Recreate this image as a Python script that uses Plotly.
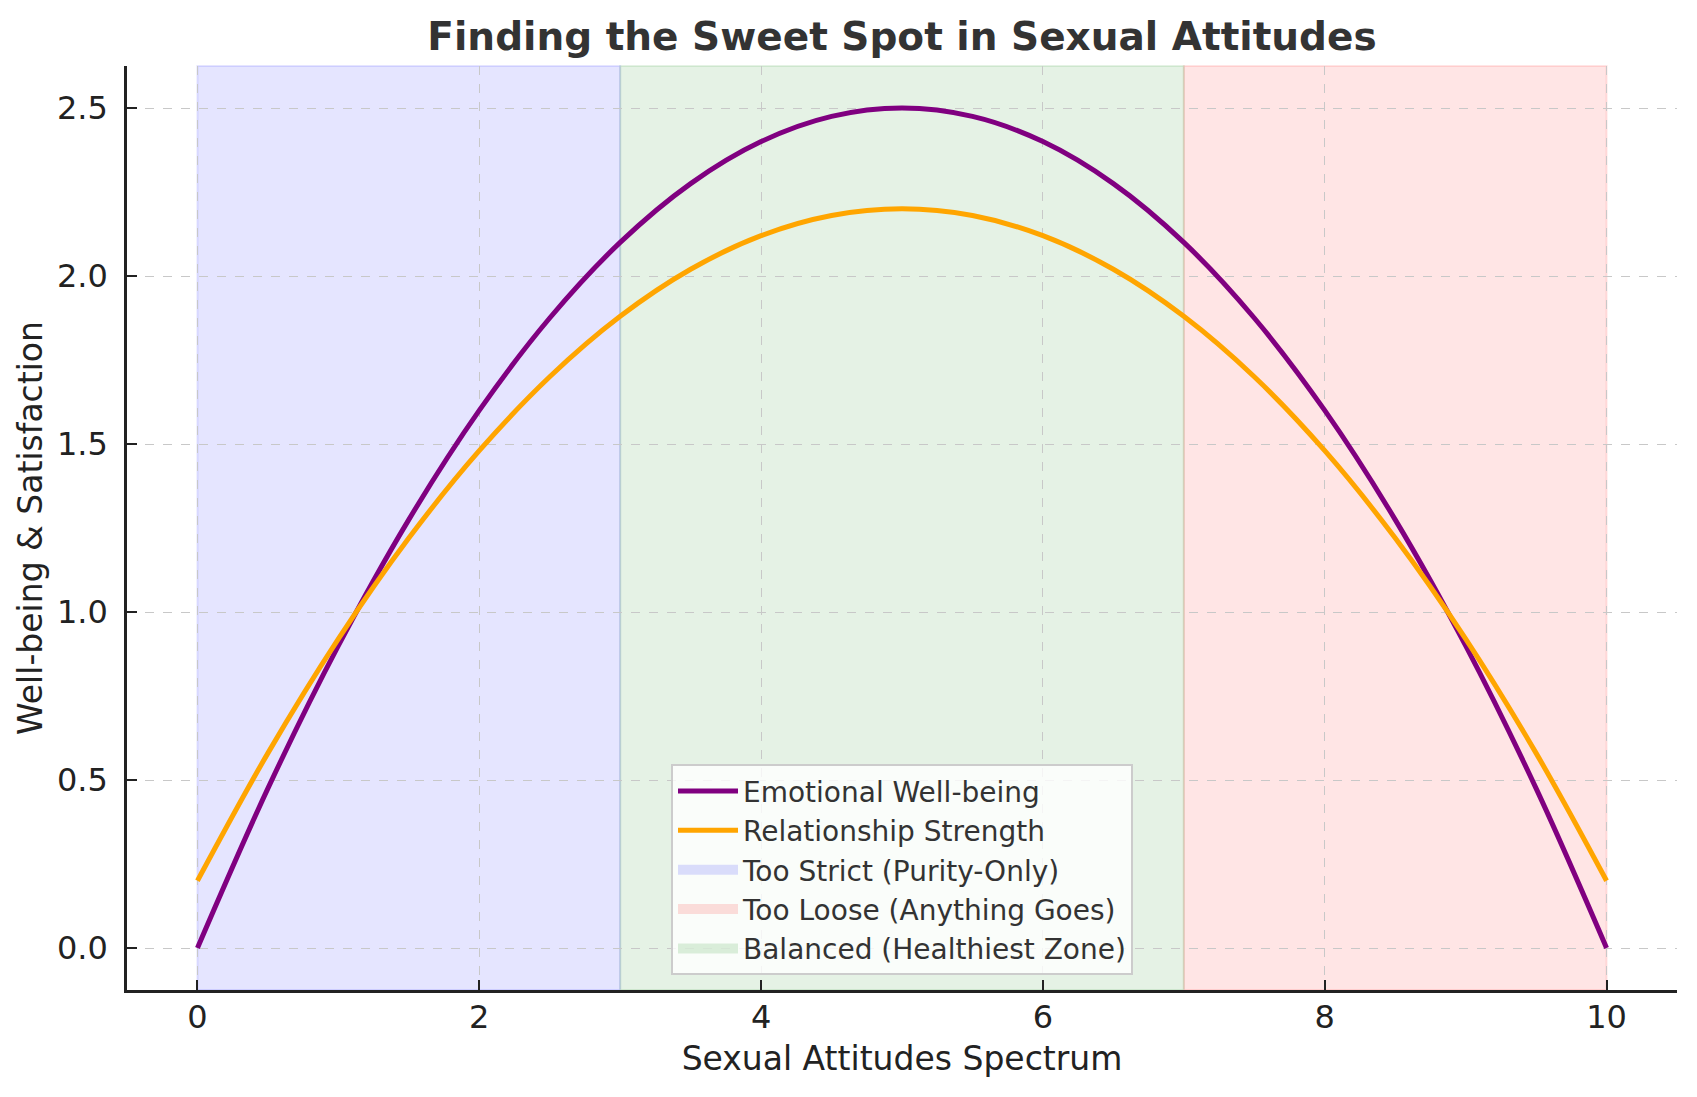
import plotly.graph_objects as go

# Data
x_vals = [0, 0.5, 1, 1.5, 2, 2.5, 3, 3.5, 4, 4.5, 5, 5.5, 6, 6.5, 7, 7.5, 8, 8.5, 9, 9.5, 10]
emotional = [0.0, 0.475, 0.9, 1.275, 1.6, 1.875, 2.1, 2.275, 2.4, 2.475, 2.5,
             2.475, 2.4, 2.275, 2.1, 1.875, 1.6, 1.275, 0.9, 0.475, 0.0]
relationship = [0.2, 0.58, 0.92, 1.22, 1.48, 1.7, 1.88, 2.02, 2.12, 2.18, 2.2,
                2.18, 2.12, 2.02, 1.88, 1.7, 1.48, 1.22, 0.92, 0.58, 0.2]
zone_names = ["Too Strict (Purity-Only)", "Too Loose (Anything Goes)", "Balanced (Healthiest Zone)"]
zone_start = [0, 7, 3]
zone_end = [3, 10, 7]
zone_colors = ["rgba(0,0,255,0.1)", "rgba(255,0,0,0.1)", "rgba(0,128,0,0.1)"]

FONT = "DejaVu Sans"

fig = go.Figure()
fig.add_trace(go.Scatter(x=x_vals, y=emotional, mode="lines", name="Emotional Well-being",
                         line=dict(color="purple", width=5, shape="spline"), legendrank=1))
fig.add_trace(go.Scatter(x=x_vals, y=relationship, mode="lines", name="Relationship Strength",
                         line=dict(color="orange", width=5, shape="spline"), legendrank=2))

for i, (n, a, b, c) in enumerate(zip(zone_names, zone_start, zone_end, zone_colors)):
    fig.add_vrect(x0=a, x1=b, fillcolor=c, line=dict(color=c, width=2), layer="below")
    # legend swatch
    fig.add_trace(go.Scatter(x=[None], y=[None], mode="lines", name=n,
                             line=dict(color=c.replace("0.1)", "0.13)"), width=18),
                             legendrank=3 + i, hoverinfo="skip"))

fig.update_layout(
    width=1697, height=1097,
    margin=dict(l=119, r=28, t=58, b=115),
    paper_bgcolor="white", plot_bgcolor="white",
    font=dict(family=FONT, size=32, color="#222"),
    title=dict(text="<b>Finding the Sweet Spot in Sexual Attitudes</b>", x=0.5, xref="paper",
               xanchor="center", y=1 - 28 / 1097, yanchor="middle",
               font=dict(size=39, color="#333", family=FONT)),
    legend=dict(x=0.5, xanchor="center", y=0.016, yanchor="bottom",
                bgcolor="rgba(255,255,255,0.8)", bordercolor="#cccccc", borderwidth=2,
                font=dict(size=28, color="#333"), tracegroupgap=0, itemwidth=60),
)
fig.update_xaxes(range=[-0.5, 10.5], tickvals=[0, 2, 4, 6, 8, 10],
                 showline=True, linecolor="#222", linewidth=2.5, mirror=False,
                 ticks="inside", ticklen=10, tickwidth=2, tickcolor="#222",
                 ticklabelstandoff=-3,
                 showgrid=True, gridcolor="#c8c8c8", griddash="dash", gridwidth=1.3,
                 zeroline=False,
                 title=dict(text="Sexual Attitudes Spectrum", font=dict(size=33, color="#222"), standoff=12))
fig.update_yaxes(range=[-0.125, 2.625], tickvals=[0, 0.5, 1, 1.5, 2, 2.5],
                 ticktext=["0.0", "0.5", "1.0", "1.5", "2.0", "2.5"],
                 showline=True, linecolor="#222", linewidth=2.5, mirror=False,
                 ticks="inside", ticklen=10, tickwidth=2, tickcolor="#222",
                 ticklabelstandoff=10,
                 showgrid=True, gridcolor="#c8c8c8", griddash="dash", gridwidth=1.3,
                 zeroline=False,
                 title=dict(text="Well-being & Satisfaction", font=dict(size=33, color="#222"), standoff=5))

fig.write_html("out.html")
